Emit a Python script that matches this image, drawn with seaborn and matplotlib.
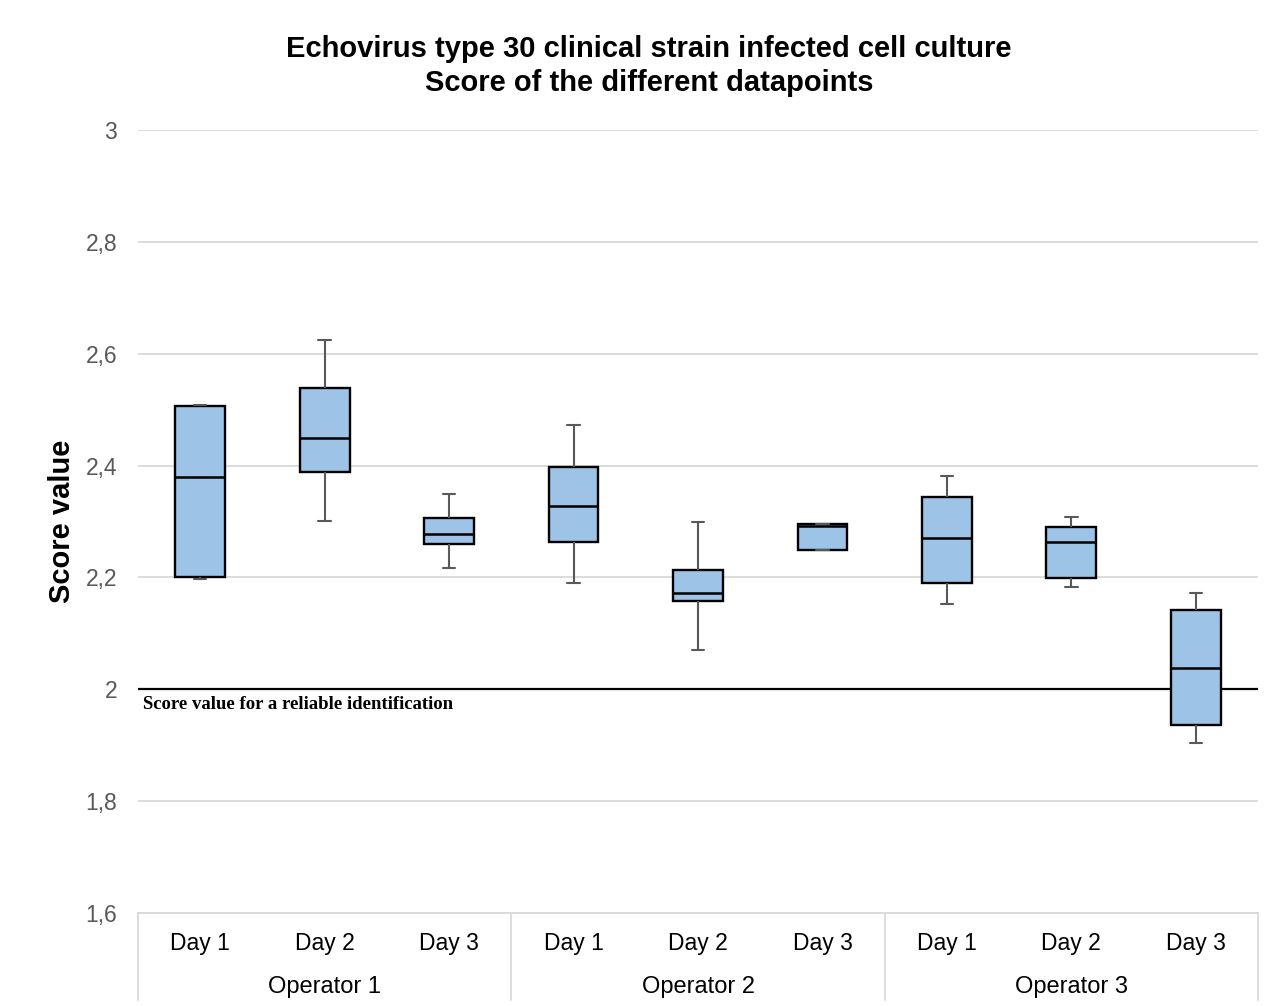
import numpy as np
import pandas as pd
import seaborn as sns
import matplotlib

matplotlib.use('Agg')
import matplotlib.pyplot as plt

# data (five-number summary per box)
operators = ["Operator 1", "Operator 2", "Operator 3"]
days = ["Day 1", "Day 2", "Day 3"]
mins = [2.198, 2.301, 2.216, 2.190, 2.071, 2.249, 2.152, 2.183, 1.904]
q1s = [2.200, 2.388, 2.260, 2.264, 2.157, 2.249, 2.190, 2.199, 1.936]
medians = [2.380, 2.449, 2.277, 2.328, 2.172, 2.292, 2.270, 2.264, 2.038]
q3s = [2.507, 2.538, 2.306, 2.398, 2.213, 2.295, 2.344, 2.291, 2.142]
maxs = [2.509, 2.625, 2.350, 2.472, 2.299, 2.296, 2.382, 2.308, 2.173]
threshold = 2.0
yticks = [1.6, 1.8, 2.0, 2.2, 2.4, 2.6, 2.8, 3.0]

slots = [f"{op} | {d}" for op in operators for d in days]
rows = []
for i, s in enumerate(slots):
    for v in (mins[i], q1s[i], medians[i], q3s[i], maxs[i]):
        rows.append({"slot": s, "score": v})
df = pd.DataFrame(rows)

sns.set_style("white")
plt.rcParams['font.family'] = ['Liberation Sans', 'DejaVu Sans']
plt.rcParams['text.color'] = 'black'

fig = plt.figure(figsize=(12.79, 10.06), dpi=100)
ax = fig.add_axes([138 / 1279, 1 - 913 / 1006, 1120 / 1279, 783 / 1006])

ax.axhline(threshold, color="black", lw=1.6, zorder=0.8)

sns.boxplot(data=df, x="slot", y="score", order=slots, whis=(0, 100),
            color="#9DC3E6", saturation=1, linecolor="black", linewidth=1.7,
            width=0.4, capwidths=0.1,
            whiskerprops=dict(color="#595959", linewidth=1.5),
            capprops=dict(color="#595959", linewidth=1.5),
            medianprops=dict(color="black", linewidth=1.8),
            ax=ax)

ax.set_ylim(1.6, 3.0)
ax.set_yticks(yticks)
ax.set_yticklabels([f"{v:g}".replace(".", ",") for v in yticks])
ax.yaxis.grid(True, color="#d9d9d9", lw=1.3)
ax.set_axisbelow(True)
ax.tick_params(axis="y", length=0, pad=15, labelsize=16.5, labelcolor="#595959")

ax.set_xticks(range(len(slots)))
ax.set_xticklabels([d for op in operators for d in days])
ax.tick_params(axis="x", length=0, pad=14, labelsize=16.5, labelcolor="black")
ax.set_xlabel("")

for side in ["left", "right", "top"]:
    ax.spines[side].set_visible(False)
ax.spines["bottom"].set_color("#d9d9d9")
ax.spines["bottom"].set_linewidth(1.3)

# operator group labels and separators
n = len(days)
for g, op in enumerate(operators):
    ax.text(g * n + (n - 1) / 2, -0.095, op, transform=ax.get_xaxis_transform(),
            ha="center", va="center", fontsize=17, color="black")
for g in range(len(operators) + 1):
    ax.plot([g * n - 0.5, g * n - 0.5], [0, -0.111], transform=ax.get_xaxis_transform(),
            color="#d9d9d9", lw=1.3, clip_on=False)
ax.set_xlim(-0.5, len(slots) - 0.5)

ax.set_ylabel("Score value", fontsize=21, fontweight="bold", color="black")
ax.yaxis.set_label_coords(-0.055, 0.5)

ax.text(-0.46, threshold - 0.012, "Score value for a reliable identification",
        family=["Liberation Serif", "DejaVu Serif"], fontweight="bold",
        fontsize=13.5, ha="left", va="top", color="black")

fig.text(649 / 1279, 1 - 49 / 1006, "Echovirus type 30 clinical strain infected cell culture",
         ha="center", va="center", fontsize=21, fontweight="bold", color="black")
fig.text(649 / 1279, 1 - 83 / 1006, "Score of the different datapoints",
         ha="center", va="center", fontsize=21, fontweight="bold", color="black")

fig.savefig("out.png", dpi=100)
